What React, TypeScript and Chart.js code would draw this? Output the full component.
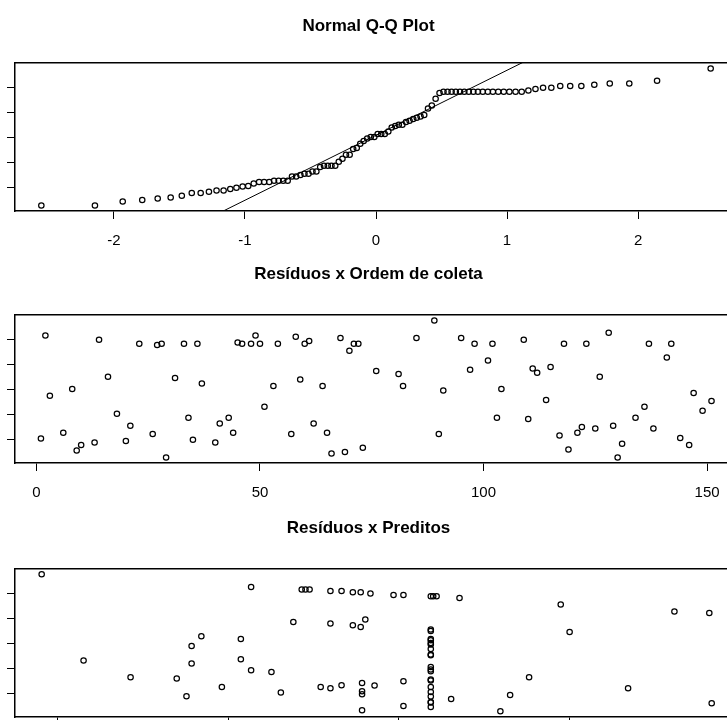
import React, { useEffect, useRef } from "react";
import { Chart, registerables } from "chart.js";
Chart.register(...registerables);

// ---------- data ----------
const qqTheoretical = [
  -2.554, -2.145, -1.933, -1.784, -1.666, -1.567, -1.482, -1.406, -1.338, -1.275,
  -1.217, -1.163, -1.112, -1.065, -1.018, -0.975, -0.933, -0.892, -0.854, -0.815,
  -0.778, -0.743, -0.708, -0.674, -0.641, -0.609, -0.577, -0.546, -0.515, -0.485,
  -0.455, -0.426, -0.397, -0.368, -0.34, -0.311, -0.284, -0.256, -0.229, -0.201,
  -0.174, -0.147, -0.12, -0.094, -0.067, -0.04, -0.013,
  0.013, 0.04, 0.067, 0.094, 0.12, 0.147, 0.174, 0.201, 0.229, 0.256,
  0.284, 0.311, 0.34, 0.368, 0.397, 0.426, 0.455, 0.485, 0.515, 0.546,
  0.577, 0.609, 0.641, 0.674, 0.708, 0.743, 0.778, 0.815, 0.854, 0.892,
  0.933, 0.975, 1.018, 1.065, 1.112, 1.163, 1.217, 1.275, 1.338, 1.406,
  1.482, 1.567, 1.666, 1.784, 1.933, 2.145, 2.554,
];

const collectionOrder = [
  1, 2, 3, 6, 8, 9, 10, 13, 14, 16, 18, 20, 21, 23, 26, 27, 28, 29, 31, 33,
  34, 35, 36, 37, 40, 41, 43, 44, 45, 46, 48, 49, 50, 51, 53, 54, 57, 58, 59, 60,
  61, 62, 64, 65, 66, 68, 69, 70, 71, 72, 73, 76, 81, 82, 85, 89, 90, 91, 95, 97,
  98, 101, 102, 103, 104, 109, 110, 111, 112, 114, 115, 117, 118, 119, 121, 122, 123, 125, 126, 128,
  129, 130, 131, 134, 136, 137, 138, 141, 142, 144, 146, 147, 149, 151,
];

const residuals = [
  -1.95, 2.17, -0.24, -1.72, 0.03, -2.43, -2.21, -2.11, 2.0, 0.52,
  -0.96, -2.05, -1.44, 1.84, -1.77, 1.79, 1.84, -2.71, 0.47, 1.84,
  -1.12, -2.0, 1.84, 0.25, -2.11, -1.35, -1.12, -1.72, 1.89, 1.84,
  1.84, 2.17, 1.84, -0.68, 0.15, 1.84, -1.77, 2.12, 0.41, 1.84,
  1.95, -1.35, 0.15, -1.72, -2.55, 2.07, -2.49, 1.56, 1.84, 1.84,
  -2.32, 0.75, 0.63, 0.15, 2.07, 2.77, -1.77, -0.03, 2.07, 0.8,
  1.84, 1.17, 1.84, -1.12, 0.03, 2.0, -1.17, 0.85, 0.68, -0.41,
  0.91, -1.83, 1.84, -2.39, -1.72, -1.49, 1.84, -1.55, 0.52, 2.28,
  -1.44, -2.71, -2.16, -1.12, -0.68, 1.84, -1.55, 1.29, 1.84, -1.93,
  -2.21, -0.13, -0.84, -0.45,
];

const predicted = [
  0.91, 1.155, 1.43, 1.70, 1.757, 1.787, 1.787, 1.844, 1.964, 2.075,
  2.075, 2.135, 2.135, 2.254, 2.309, 2.382, 2.431, 2.453, 2.477, 2.542,
  2.599, 2.599, 2.599, 2.664, 2.664, 2.73, 2.73, 2.776, 2.776, 2.784,
  2.784, 2.784, 2.784, 2.803, 2.833, 2.857, 2.968, 3.026, 3.026, 3.026,
  3.186, 3.2, 3.22,
  3.186, 3.186, 3.186, 3.186, 3.186, 3.186, 3.186, 3.186, 3.186, 3.186,
  3.186, 3.186, 3.186, 3.186, 3.186, 3.186, 3.186, 3.186, 3.186, 3.186,
  3.305, 3.354, 3.593, 3.65, 3.761, 3.946, 3.998, 4.34, 4.611, 4.815, 4.829,
];

const residualsVsPredicted = [
  2.78, -0.67, -1.34, -1.39, -2.1, -0.09, -0.79, 0.3, -1.73, 0.19,
  -0.62, 2.27, -1.06, -1.13, -1.95, 0.87, 2.17, 2.17, 2.17, -1.73,
  2.11, 0.81, -1.78, 2.11, -1.66, 2.06, 0.74, 2.06, 0.67, -1.57,
  -1.9, -2.02, -2.66, 0.97, 2.01, -1.67, 1.95, 1.95, -1.5, -2.49,
  1.9, 1.9, 1.9,
  0.57, 0.51, 0.19, 0.14, 0.03, -0.03, -0.21, -0.43, -0.46, -0.93,
  -1.03, -1.1, -1.43, -1.47, -1.73, -1.93, -2.11, -2.33, -2.35, -2.53,
  -2.21, 1.83, -2.7, -2.05, -1.34, 1.57, 0.47, -1.78, 1.29, 1.23, -2.38,
];

const qqLineIntercept = 0.1;
const qqLineSlope = 2.6;

const qqXTicks = [-2, -1, 0, 1, 2];
const orderTicks = [0, 50, 100, 150];
const predictedTicks = [1, 2, 3, 4];
const residualTicks = [-2, -1, 0, 1, 2];

const titles = ["Normal Q-Q Plot", "Resíduos x Ordem de coleta", "Resíduos x Preditos"];

// ---------- chart helpers ----------
const FONT = "'Liberation Sans', Arial, sans-serif";
const CANVAS_W = 760;
const CANVAS_H = 252;
const TITLE_GAP = 42.6; // title padding top + bottom

function pointDataset(xs: number[], ys: number[]) {
  return {
    type: "scatter" as const,
    data: xs.map((x, i) => ({ x, y: ys[i] })),
    pointStyle: "circle",
    pointRadius: 2.7,
    pointBorderWidth: 1.2,
    pointBorderColor: "#000",
    pointBackgroundColor: "rgba(0,0,0,0)",
    showLine: false,
  };
}

function makeConfig(
  title: string,
  titleTop: number,
  datasets: any[],
  xMin: number,
  xMax: number,
  xTicks: number[]
) {
  return {
    type: "scatter" as const,
    data: { datasets },
    options: {
      animation: false,
      responsive: false,
      events: [],
      devicePixelRatio: 1,
      layout: { padding: { left: 0, right: CANVAS_W - 737, top: 0, bottom: 0 } },
      plugins: {
        legend: { display: false },
        tooltip: { enabled: false },
        title: {
          display: true,
          text: title,
          color: "#000",
          font: { family: FONT, size: 17, weight: "bold", lineHeight: 1.2 },
          padding: { top: titleTop, bottom: TITLE_GAP - titleTop },
        },
      },
      scales: {
        x: {
          type: "linear",
          position: "bottom",
          min: xMin,
          max: xMax,
          afterBuildTicks: (s: any) => {
            s.ticks = xTicks.map((v) => ({ value: v }));
          },
          afterFit: (s: any) => {
            s.height = 41;
          },
          grid: { display: true, drawOnChartArea: false, drawTicks: true, tickLength: 8, color: "#000", lineWidth: 1 },
          border: { display: true, color: "#000", width: 1.5 },
          ticks: { display: true, color: "#000", font: { family: FONT, size: 15 }, padding: 13, maxRotation: 0, autoSkip: false },
        },
        x2: {
          type: "linear",
          position: "top",
          display: true,
          min: xMin,
          max: xMax,
          afterFit: (s: any) => {
            s.height = 0;
          },
          grid: { display: false },
          border: { display: true, color: "#000", width: 1.5 },
          ticks: { display: false },
        },
        y: {
          type: "linear",
          position: "left",
          min: -2.93,
          max: 2.99,
          afterBuildTicks: (s: any) => {
            s.ticks = residualTicks.map((v) => ({ value: v }));
          },
          afterFit: (s: any) => {
            s.width = 15;
          },
          grid: { display: true, drawOnChartArea: false, drawTicks: true, tickLength: 8, color: "#000", lineWidth: 1 },
          border: { display: true, color: "#000", width: 1.5 },
          ticks: { display: false },
        },
      },
    },
  };
}

function Panel({ top, config }: { top: number; config: any }) {
  const ref = useRef<HTMLCanvasElement | null>(null);
  useEffect(() => {
    if (!ref.current) return;
    const chart = new Chart(ref.current, config);
    return () => chart.destroy();
  }, [config]);
  return (
    <canvas
      ref={ref}
      width={CANVAS_W}
      height={CANVAS_H}
      style={{ position: "absolute", left: 0, top, width: CANVAS_W, height: CANVAS_H }}
    />
  );
}

const qqSorted = [...residuals].sort((a, b) => a - b);
const qqLine = [-3, 3].map((x) => ({ x, y: qqLineIntercept + qqLineSlope * x }));

const configs = [
  makeConfig(
    titles[0],
    16,
    [
      pointDataset(qqTheoretical, qqSorted),
      { type: "line", data: qqLine, borderColor: "#000", borderWidth: 1, pointRadius: 0, fill: false },
    ],
    -2.755,
    2.755,
    qqXTicks
  ),
  makeConfig(titles[1], 12, [pointDataset(collectionOrder, residuals)], -4.8, 156.7, orderTicks),
  makeConfig(titles[2], 12, [pointDataset(predicted, residualsVsPredicted)], 0.754, 4.977, predictedTicks),
];

export default function App() {
  return (
    <div
      style={{
        position: "fixed",
        left: 0,
        top: 0,
        width: 727,
        height: 720,
        overflow: "hidden",
        background: "#fff",
      }}
    >
      <Panel top={0} config={configs[0]} />
      <Panel top={252} config={configs[1]} />
      <Panel top={506} config={configs[2]} />
    </div>
  );
}
